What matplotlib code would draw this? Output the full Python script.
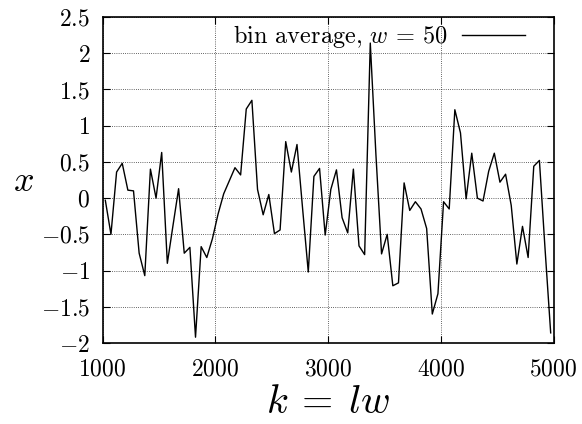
#!/usr/bin/env python3
"""Bin-averaged series x against k = lw (gnuplot/LaTeX look)."""

import numpy as np

import matplotlib

matplotlib.use("Agg")
import matplotlib.pyplot as plt
from matplotlib.ticker import FuncFormatter, MultipleLocator


W = 50
K_START = 1025
# bin averages, one per bin of width w
X_VALUES = [
    -0.03, -0.50, 0.36, 0.48, 0.11, 0.10, -0.76, -1.07, 0.40, 0.00,
    0.63, -0.90, -0.38, 0.13, -0.76, -0.68, -1.92, -0.67, -0.82, -0.56,
    -0.22, 0.06, 0.24, 0.42, 0.32, 1.23, 1.35, 0.12, -0.23, 0.05,
    -0.49, -0.44, 0.78, 0.36, 0.74, -0.15, -1.02, 0.30, 0.41, -0.51,
    0.12, 0.39, -0.27, -0.48, 0.40, -0.66, -0.78, 2.14, 0.60, -0.77,
    -0.50, -1.21, -1.17, 0.21, -0.17, -0.05, -0.15, -0.42, -1.60, -1.32,
    -0.05, -0.15, 1.22, 0.90, -0.01, 0.62, 0.00, -0.04, 0.37, 0.62,
    0.22, 0.33, -0.10, -0.91, -0.39, -0.82, 0.44, 0.52, -0.70, -1.86,
]
K_VALUES = K_START + W * np.arange(len(X_VALUES))

plt.rcParams["mathtext.fontset"] = "cm"
plt.rcParams["font.family"] = "serif"
plt.rcParams["font.serif"] = ["cmr10"]
plt.rcParams["axes.formatter.use_mathtext"] = True


def math_fmt(v, _pos):
    return f"${v:g}$"


fig = plt.figure(figsize=(5.82, 4.24), dpi=100)
ax = fig.add_axes([102.5 / 582, 1 - 343 / 424, 451 / 582, 326 / 424])

ax.plot(K_VALUES, X_VALUES, color="black", linewidth=1.0,
        label=r"bin average, $w$ = 50")

ax.set_xlim(1000, 5000)
ax.set_ylim(-2, 2.5)
ax.xaxis.set_major_locator(MultipleLocator(1000))
ax.yaxis.set_major_locator(MultipleLocator(0.5))
ax.xaxis.set_major_formatter(FuncFormatter(math_fmt))
ax.yaxis.set_major_formatter(FuncFormatter(math_fmt))
ax.tick_params(direction="in", top=True, right=True, length=5, width=0.8,
               labelsize=17, pad=9)
ax.tick_params(axis="x", pad=11)
ax.grid(True, color="black", linestyle=(0, (1, 1.6)), linewidth=0.6, alpha=0.8)
for sp in ax.spines.values():
    sp.set_linewidth(1.2)

ax.set_xlabel(r"$k\:=\:lw$", fontsize=29)
ax.xaxis.set_label_coords(0.5, -(403 - 343) / 326)
ax.xaxis.label.set_va("center")
ax.yaxis.set_label_coords(-79.5 / 451, (343 - 182) / 326)
ax.set_ylabel(r"$x$", fontsize=26, rotation=0, va="center", ha="center")

leg = ax.legend(loc="upper right", frameon=False, markerfirst=False,
                fontsize=17.5, handlelength=2.6, borderaxespad=0,
                handletextpad=0.55, bbox_to_anchor=(0.958, 1.01))

fig.savefig("out.png", dpi=100)
